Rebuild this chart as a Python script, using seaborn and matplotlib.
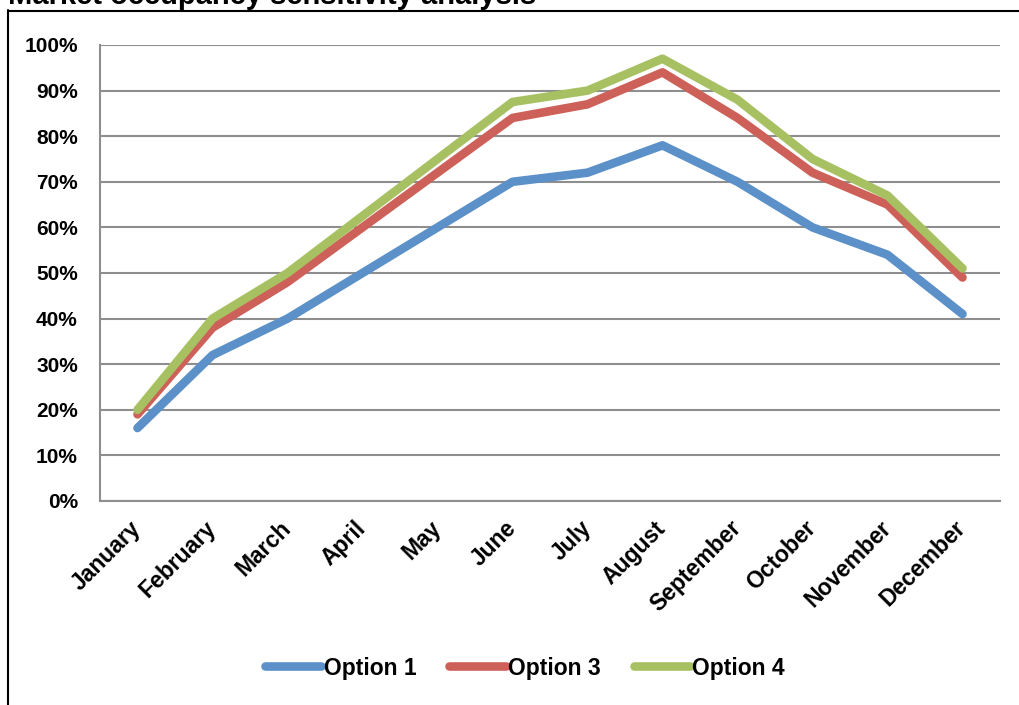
import matplotlib
matplotlib.use("Agg")
import matplotlib.pyplot as plt
from matplotlib.lines import Line2D
from matplotlib.ticker import FixedLocator, PercentFormatter
import numpy as np
import pandas as pd
import seaborn as sns

# Monthly occupancy (%) for each pricing option
months = ["January", "February", "March", "April", "May", "June",
          "July", "August", "September", "October", "November", "December"]
option_1 = [16, 32, 40, 50, 60, 70, 72, 78, 70, 60, 54, 41]
option_3 = [19, 38, 48, 60, 72, 84, 87, 94, 84, 72, 65, 49]
option_4 = [20, 40, 50, 62.5, 75, 87.5, 90, 97, 88, 75, 67, 51]
series_names = ["Option 1", "Option 3", "Option 4"]
colors = ["#5B90C8", "#CD6058", "#A7C162"]

frames = []
for name, vals in zip(series_names, [option_1, option_3, option_4]):
    frames.append(pd.DataFrame({"month_idx": np.arange(len(months)),
                                "occupancy": vals, "option": name}))
df = pd.concat(frames, ignore_index=True)

sns.set_style("white")
plt.rcParams["font.family"] = ["Liberation Sans", "DejaVu Sans"]
plt.rcParams["font.weight"] = "bold"
plt.rcParams["text.color"] = "black"

W, H = 1020, 705
fig = plt.figure(figsize=(W / 100, H / 100), dpi=100)
ax = fig.add_axes([100 / W, 1 - 501 / H, 900 / W, 456 / H])

grid_color = "#8E8E8E"
sns.lineplot(data=df, x="month_idx", y="occupancy", hue="option",
             hue_order=series_names, palette=colors, linewidth=6.2,
             ax=ax, legend=False, sort=False,
             solid_capstyle="round", solid_joinstyle="round", zorder=3)

ax.set_xlim(-0.5, len(months) - 0.5)
ax.set_ylim(0, 100)
ax.set_xlabel("")
ax.set_ylabel("")

# y axis: percent ticks every 10 with horizontal gridlines
ax.yaxis.set_major_locator(FixedLocator(np.arange(0, 101, 10)))
ax.yaxis.set_major_formatter(PercentFormatter(decimals=0))
ax.grid(axis="y", color=grid_color, linewidth=1.5, zorder=0)
ax.grid(axis="x", visible=False)

# x axis: ticks at category boundaries, labels at category centres
ax.xaxis.set_major_locator(FixedLocator(np.arange(-0.5, len(months), 1.0)))
ax.set_xticklabels([""] * (len(months) + 1))
ax.set_xticks(np.arange(len(months)), minor=True)
ax.set_xticklabels(months, minor=True, rotation=45, ha="right",
                   va="center", rotation_mode="anchor",
                   fontsize=16.5, fontweight="bold", color="black")
ax.tick_params(axis="x", which="minor", length=0, pad=17)
ax.tick_params(axis="x", which="major", length=5, width=1.5,
               color=grid_color, direction="out")
ax.tick_params(axis="y", which="major", length=4, width=1.5,
               color=grid_color, direction="out", pad=12,
               labelsize=15, labelcolor="black")
for lab in ax.get_yticklabels():
    lab.set_fontweight("bold")

for side in ["top", "right"]:
    ax.spines[side].set_visible(False)
for side in ["left", "bottom"]:
    ax.spines[side].set_color(grid_color)
    ax.spines[side].set_linewidth(1.5)

# Legend below the plot
handles = [Line2D([0], [0], color=c, linewidth=6.2, solid_capstyle="round")
           for c in colors]
leg = fig.legend(handles, series_names, loc="center", ncol=3, frameon=False,
                 bbox_to_anchor=(525 / W, 1 - 668 / H), handlelength=2.45,
                 handletextpad=0.1, columnspacing=1.45,
                 prop={"size": 16.5, "weight": "bold"})
for t in leg.get_texts():
    t.set_color("black")

# Outer frame of the chart area
fig.add_artist(Line2D([8 / W, 8 / W], [0, 1 - 10 / H], color="black",
                      linewidth=1.5, transform=fig.transFigure))
fig.add_artist(Line2D([8 / W, 1], [1 - 11 / H, 1 - 11 / H], color="black",
                      linewidth=1.5, transform=fig.transFigure))

# Title sitting above the frame
fig.text(8 / W, 1 - 4 / H, "Market occupancy sensitivity analysis",
         ha="left", va="baseline", fontsize=21, fontweight="bold",
         color="black")

fig.savefig("out.png", dpi=100)
